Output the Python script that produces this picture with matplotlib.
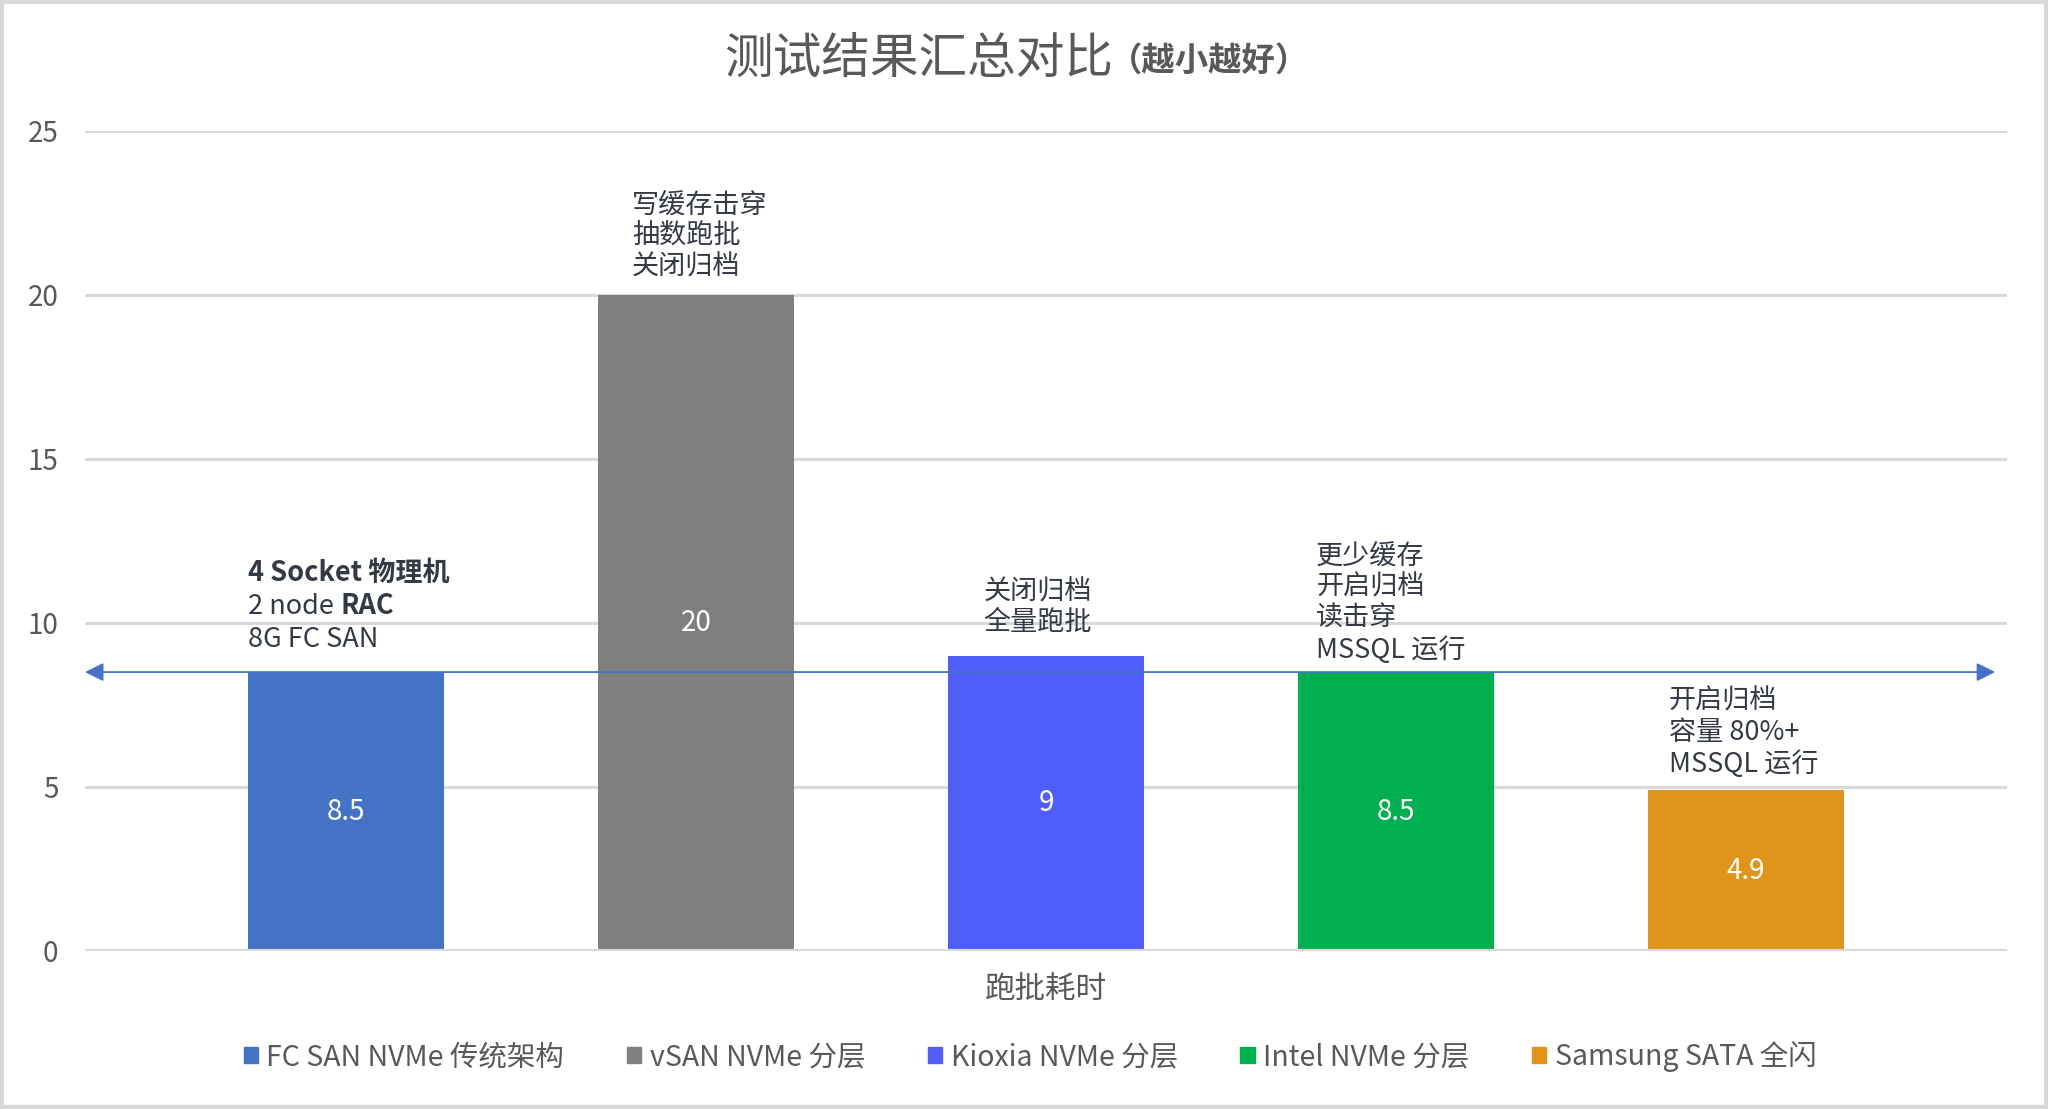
import numpy as np
import matplotlib
matplotlib.use("Agg")
import matplotlib.pyplot as plt
from matplotlib.patches import Rectangle

plt.rcParams['font.family'] = ['Noto Sans CJK SC', 'DejaVu Sans']

series = ['FC SAN NVMe 传统架构', 'vSAN NVMe 分层', 'Kioxia NVMe 分层',
          'Intel NVMe 分层', 'Samsung SATA 全闪']
values = [8.5, 20, 9, 8.5, 4.9]
colors = ['#4472C4', '#7F7F7F', '#4F5EFA', '#00B050', '#E0951A']
notes = [None,
         '写缓存击穿\n抽数跑批\n关闭归档',
         '关闭归档\n全量跑批',
         '更少缓存\n开启归档\n读击穿\nMSSQL 运行',
         '开启归档\n容量 80%+\nMSSQL 运行']
baseline = 8.5
yticks = [0, 5, 10, 15, 20, 25]
category = '跑批耗时'
title = '测试结果汇总对比'
subtitle = '（越小越好）'

note_dx = [-0.28, -0.183, -0.179, -0.228, -0.22]
note_dy = [14, 10, 14, 6, 9]

fig = plt.figure(figsize=(20.48, 11.09), dpi=100)
ax = fig.add_axes([0.0415, 0.1425, 0.9385, 0.7397])
x = np.arange(len(values))
width = 0.56

ax.set_ylim(0, 25)
ax.set_xlim(-0.746, len(values) - 1 + 0.746)
ax.set_yticks(yticks)
ax.set_yticklabels([str(t) for t in yticks])
ax.tick_params(axis='y', length=0, pad=19, labelsize=20, labelcolor='#595959')
ax.tick_params(axis='x', length=0, labelbottom=False)
for s in ax.spines.values():
    s.set_visible(False)
for t in yticks[1:]:
    ax.axhline(t, color='#D9D9D9', lw=2.2, zorder=0)
ax.axhline(0, color='#D9D9D9', lw=3, zorder=3)

bars = ax.bar(x, values, width=width, color=colors, zorder=2)
for xi, v in zip(x, values):
    ax.text(xi, v / 2, '%g' % v, ha='center', va='center', color='white',
            fontsize=20, zorder=4)

# baseline arrow
ax.annotate('', xy=(len(values) - 1 + 0.712, baseline), xytext=(-0.746, baseline),
            arrowprops=dict(arrowstyle='<|-|>', color='#4472C4', lw=1.3,
                            mutation_scale=28, shrinkA=0, shrinkB=0),
            zorder=5)

txtc = '#333A45'
fs = 19.5
for i, n in enumerate(notes):
    if n is None:
        continue
    ax.annotate(n, xy=(x[i] + note_dx[i], values[i]), xytext=(0, note_dy[i]),
                textcoords='offset points', ha='left', va='bottom',
                fontsize=fs, color=txtc, linespacing=1.2, zorder=6)

# first bar annotation with mixed weights
fig.canvas.draw()
r = fig.canvas.get_renderer()
x0 = x[0] + note_dx[0]
y0 = note_dy[0]
lh = 23.5
ax.annotate('8G FC SAN', xy=(x0, values[0]), xytext=(0, y0),
            textcoords='offset points', ha='left', va='bottom',
            fontsize=fs, color=txtc)
t2 = ax.annotate('2 node ', xy=(x0, values[0]), xytext=(0, y0 + lh),
                 textcoords='offset points', ha='left', va='bottom',
                 fontsize=fs, color=txtc)
w = t2.get_window_extent(r).width * 72 / fig.dpi
ax.annotate('RAC', xy=(x0, values[0]), xytext=(w, y0 + lh),
            textcoords='offset points', ha='left', va='bottom',
            fontsize=fs, color=txtc, fontweight='bold')
ax.annotate('4 Socket 物理机', xy=(x0, values[0]), xytext=(0, y0 + 2 * lh),
            textcoords='offset points', ha='left', va='bottom',
            fontsize=fs, color=txtc, fontweight='bold')

# title
tt = fig.text(0.5, 0.947, title, ha='center', va='center', fontsize=35,
              color='#595959', fontweight='medium')
fig.canvas.draw()
bb = tt.get_window_extent(r)
tw = bb.width
st = fig.text(0, 0.945, subtitle, ha='left', va='center', fontsize=24,
              color='#595959', fontweight='bold')
sw = st.get_window_extent(r).width
left = 1019 - (tw + sw) / 2
tt.set_x((left + tw / 2) / fig.bbox.width)
st.set_x((left + tw - 4) / fig.bbox.width)

fig.text(0.5105, 0.108, category, ha='center', va='center', fontsize=22,
         color='#595959')

handles = [Rectangle((0, 0), 1, 1, color=c) for c in colors]
fig.legend(handles, series, loc='center', bbox_to_anchor=(0.503, 0.047),
           ncol=5, frameon=False, fontsize=20.5, handlelength=0.5,
           handleheight=0.5, handletextpad=0.3, columnspacing=2.2,
           labelcolor='#595959')

fig.patches.append(Rectangle((0.001, 0.002), 0.998, 0.996, transform=fig.transFigure,
                             fill=False, edgecolor='#D9D9D9', lw=3))

fig.savefig('out.png', dpi=100)
